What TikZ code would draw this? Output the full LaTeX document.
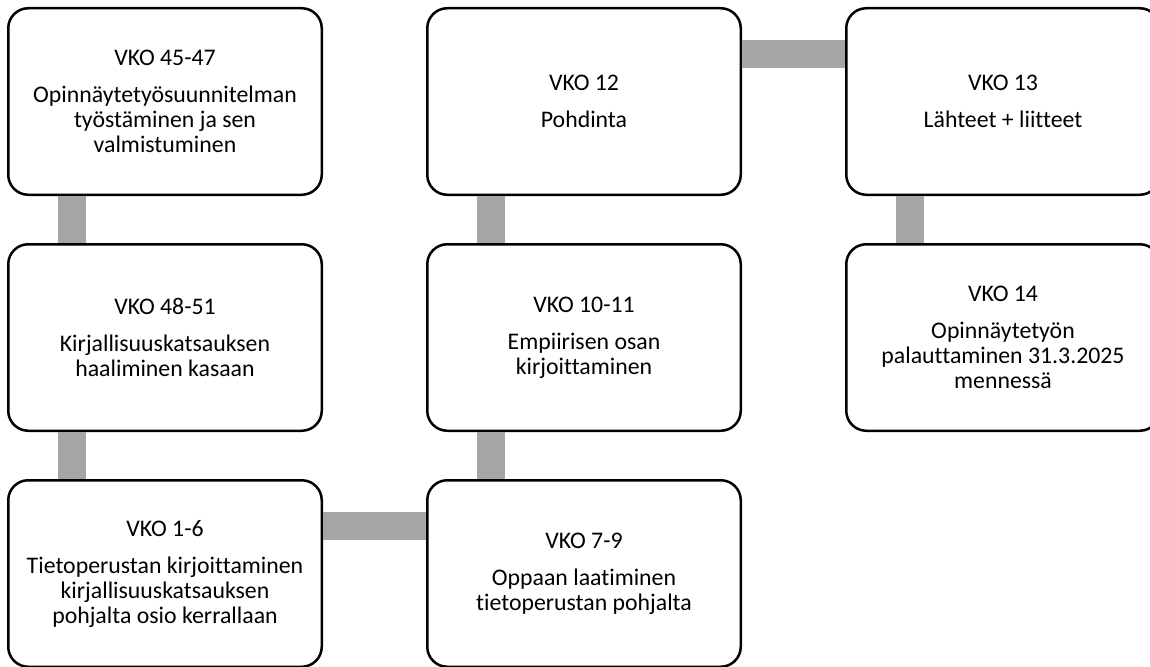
\documentclass[tikz,border=0pt]{standalone}
\usepackage{fontspec}
\setmainfont{Carlito}[Ligatures=NoCommon]
\usetikzlibrary{positioning}
\definecolor{linkgray}{HTML}{A6A6A6}

\begin{document}
\begin{tikzpicture}[node distance=47pt and 103pt]
  \tikzstyle{box} = [draw,rectangle,line width=2.5pt,rounded corners=20pt,fill=white,
    minimum width=313.5pt,minimum height=186.5pt,align=center,
    font=\fontsize{23.8}{25}\selectfont]
  \tikzstyle{link} = [draw=linkgray,line width=28pt]
  \useasboundingbox (0,0) rectangle (1150pt,-666pt);
  \clip (0,0) rectangle (1150pt,-666pt);
  \node (vko4547) [box, anchor=north west] at (7pt,-7pt)
    {VKO 45-47\\[12pt]Opinnäytetyösuunnitelman\\työstäminen ja sen\\valmistuminen};
  \node (vko4851) [box, below=of vko4547]
    {VKO 48-51\\[12pt]Kirjallisuuskatsauksen\\haaliminen kasaan};
  \node (vko16) [box, below=of vko4851]
    {VKO 1-6\\[12pt]Tietoperustan kirjoittaminen\\kirjallisuuskatsauksen\\pohjalta osio kerrallaan};
  \node (vko79) [box, right=of vko16]
    {VKO 7-9\\[12pt]Oppaan laatiminen\\tietoperustan pohjalta};
  \node (vko1011) [box, above=of vko79]
    {VKO 10-11\\[12pt]Empiirisen osan\\kirjoittaminen};
  \node (vko12) [box, above=of vko1011]
    {VKO 12\\[12pt]Pohdinta};
  \node (vko13) [box, right=of vko12]
    {VKO 13\\[12pt]Lähteet + liitteet};
  \node (vko14) [box, below=of vko13]
    {VKO 14\\[12pt]Opinnäytetyön\\palauttaminen 31.3.2025\\mennessä};
  \draw [link] ([xshift=65pt]vko4547.south west) -- ([xshift=65pt]vko4851.north west);
  \draw [link] ([xshift=65pt]vko4851.south west) -- ([xshift=65pt]vko16.north west);
  \draw [link] ([yshift=-47pt]vko16.north east) -- ([yshift=-47pt]vko79.north west);
  \draw [link] ([xshift=65pt]vko79.north west) -- ([xshift=65pt]vko1011.south west);
  \draw [link] ([xshift=65pt]vko1011.north west) -- ([xshift=65pt]vko12.south west);
  \draw [link] ([yshift=-47pt]vko12.north east) -- ([yshift=-47pt]vko13.north west);
  \draw [link] ([xshift=65pt]vko13.south west) -- ([xshift=65pt]vko14.north west);
\end{tikzpicture}
\end{document}
